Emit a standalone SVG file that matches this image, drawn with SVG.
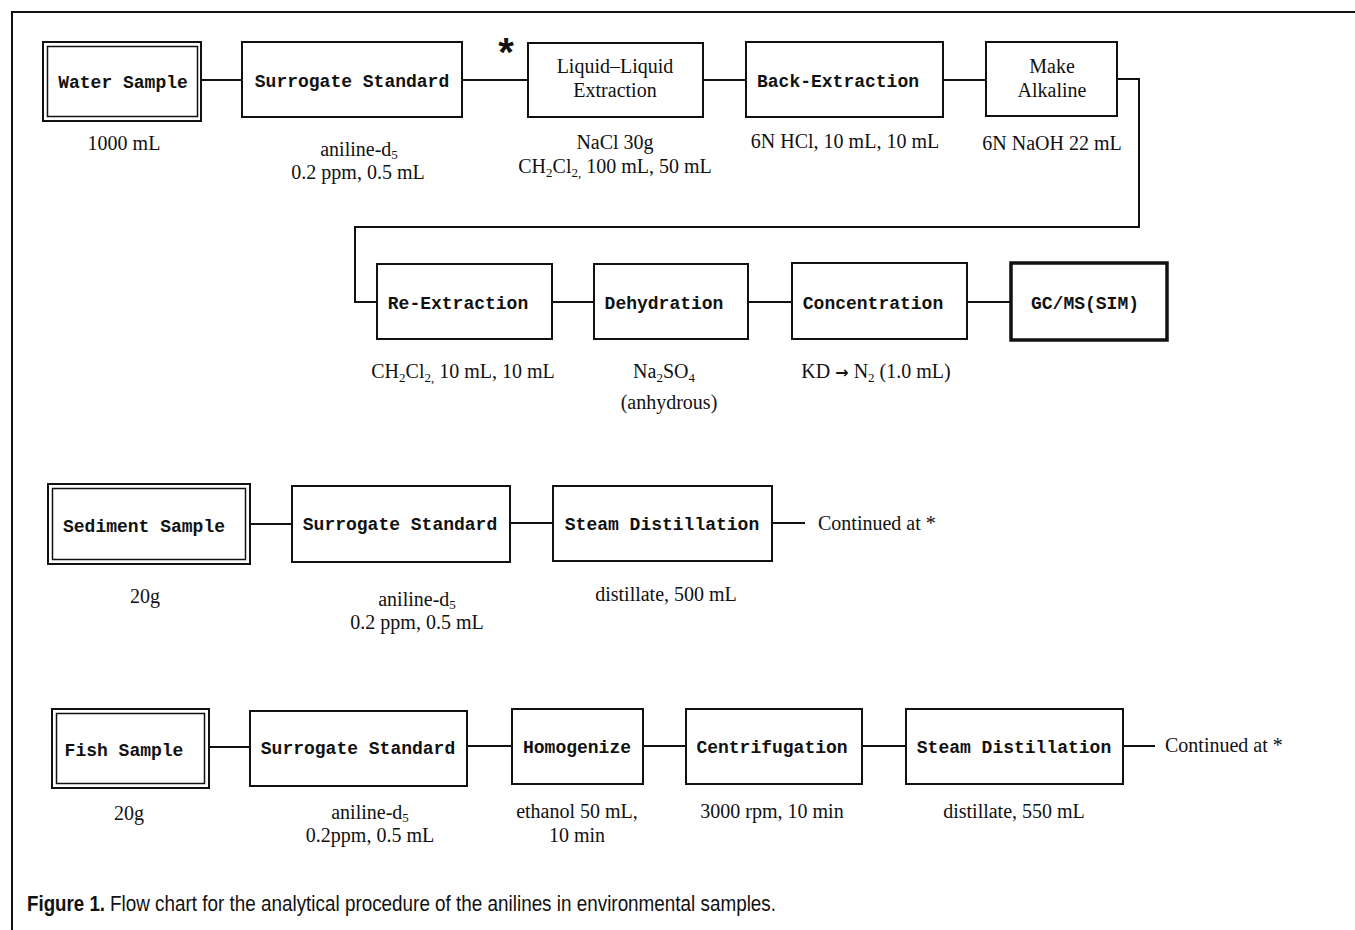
<svg xmlns="http://www.w3.org/2000/svg" width="1355" height="930" viewBox="0 0 1355 930">
<style>
.box{fill:#fff;stroke:#111;stroke-width:2}
.thick{fill:#fff;stroke:#111;stroke-width:3.5}
.in{fill:none;stroke:#111;stroke-width:1.5}
.lbl{font-family:"Liberation Mono","DejaVu Sans Mono",monospace;font-weight:bold;font-size:18px;fill:#111;text-anchor:middle}
.ser{font-family:"Liberation Serif","DejaVu Serif",serif;font-size:20px;fill:#111;text-anchor:middle}
.sub{font-size:13px}
.arr{font-family:"DejaVu Sans",sans-serif;font-weight:bold;font-size:16px}
.cap{font-family:"Liberation Sans",Arial,sans-serif;font-size:22px;fill:#111}
.con line,.con polyline{stroke:#111;stroke-width:2;fill:none}
</style>
<rect width="1355" height="930" fill="#fff"/>
<polyline points="12,930 12,12 1355,12" fill="none" stroke="#111" stroke-width="2"/>

<g class="con" id="connectors">
<line x1="201" y1="80" x2="242" y2="80"/>
<line x1="462" y1="80" x2="528" y2="80"/>
<line x1="703" y1="80" x2="746" y2="80"/>
<line x1="943" y1="80" x2="986" y2="80"/>
<polyline points="1117,79 1139,79 1139,227 355,227 355,302 377,302"/>
<line x1="552" y1="302" x2="594" y2="302"/>
<line x1="748" y1="302" x2="792" y2="302"/>
<line x1="967" y1="302" x2="1011" y2="302"/>
<line x1="250" y1="524" x2="292" y2="524"/>
<line x1="510" y1="523" x2="553" y2="523"/>
<line x1="772" y1="523" x2="805" y2="523"/>
<line x1="209" y1="747" x2="250" y2="747"/>
<line x1="467" y1="746" x2="512" y2="746"/>
<line x1="643" y1="746" x2="686" y2="746"/>
<line x1="862" y1="746" x2="906" y2="746"/>
<line x1="1123" y1="746" x2="1155" y2="746"/>
</g>

<g id="water">
<rect class="box" x="43" y="42" width="158" height="79"/>
<rect class="in" x="47.5" y="46.5" width="150" height="70"/>
<text class="lbl" x="123" y="88">Water Sample</text>
<text class="ser" x="124" y="150">1000 mL</text>
</g>
<g id="surrogate1">
<rect class="box" x="242" y="42" width="220" height="75"/>
<text class="lbl" x="352" y="87">Surrogate Standard</text>
<text class="ser" x="359" y="156">aniline-d<tspan class="sub" dy="3">5</tspan></text>
<text class="ser" x="358" y="179">0.2 ppm, 0.5 mL</text>
</g>
<g id="lle">
<text x="506" y="66" font-family="Liberation Sans,Arial,sans-serif" font-weight="bold" font-size="40" text-anchor="middle" fill="#111">*</text>
<rect class="box" x="528" y="43" width="175" height="74"/>
<text class="ser" x="615" y="73">Liquid–Liquid</text>
<text class="ser" x="615" y="97">Extraction</text>
<text class="ser" x="615" y="149">NaCl 30g</text>
<text class="ser" x="615" y="173">CH<tspan class="sub" dy="4">2</tspan><tspan dy="-4">Cl</tspan><tspan class="sub" dy="4">2,</tspan><tspan dy="-4"> 100 mL, 50 mL</tspan></text>
</g>
<g id="back">
<rect class="box" x="746" y="42" width="197" height="75"/>
<text class="lbl" x="838" y="87">Back-Extraction</text>
<text class="ser" x="845" y="148">6N HCl, 10 mL, 10 mL</text>
</g>
<g id="alkaline">
<rect class="box" x="986" y="42" width="131" height="74"/>
<text class="ser" x="1052" y="73">Make</text>
<text class="ser" x="1052" y="97">Alkaline</text>
<text class="ser" x="1052" y="150">6N NaOH 22 mL</text>
</g>
<g id="reext">
<rect class="box" x="377" y="264" width="175" height="75"/>
<text class="lbl" x="458" y="309">Re-Extraction</text>
<text class="ser" x="463" y="378">CH<tspan class="sub" dy="4">2</tspan><tspan dy="-4">Cl</tspan><tspan class="sub" dy="4">2,</tspan><tspan dy="-4"> 10 mL, 10 mL</tspan></text>
</g>
<g id="dehyd">
<rect class="box" x="594" y="264" width="154" height="75"/>
<text class="lbl" x="664" y="309">Dehydration</text>
<text class="ser" x="664" y="378">Na<tspan class="sub" dy="4">2</tspan><tspan dy="-4">SO</tspan><tspan class="sub" dy="4">4</tspan></text>
<text class="ser" x="669" y="409">(anhydrous)</text>
</g>
<g id="conc">
<rect class="box" x="792" y="263" width="175" height="76"/>
<text class="lbl" x="873" y="309">Concentration</text>
<text class="ser" x="876" y="378">KD <tspan class="arr">→</tspan> N<tspan class="sub" dy="4">2</tspan><tspan dy="-4"> (1.0 mL)</tspan></text>
</g>
<g id="gcms">
<rect class="thick" x="1011" y="263" width="156" height="77"/>
<text class="lbl" x="1085" y="309">GC/MS(SIM)</text>
</g>

<g id="sediment">
<rect class="box" x="48" y="484" width="202" height="80"/>
<rect class="in" x="52.5" y="488.5" width="193" height="71"/>
<text class="lbl" x="144" y="532">Sediment Sample</text>
<text class="ser" x="145" y="603">20g</text>
</g>
<g id="surrogate2">
<rect class="box" x="292" y="486" width="218" height="76"/>
<text class="lbl" x="400" y="530">Surrogate Standard</text>
<text class="ser" x="417" y="606">aniline-d<tspan class="sub" dy="3">5</tspan></text>
<text class="ser" x="417" y="629">0.2 ppm, 0.5 mL</text>
</g>
<g id="steam1">
<rect class="box" x="553" y="486" width="219" height="75"/>
<text class="lbl" x="662" y="530">Steam Distillation</text>
<text class="ser" x="666" y="601">distillate, 500 mL</text>
</g>
<text class="ser" x="818" y="530" style="text-anchor:start">Continued at *</text>

<g id="fish">
<rect class="box" x="52" y="709" width="157" height="79"/>
<rect class="in" x="56.5" y="713.5" width="148" height="70"/>
<text class="lbl" x="124" y="756">Fish Sample</text>
<text class="ser" x="129" y="820">20g</text>
</g>
<g id="surrogate3">
<rect class="box" x="250" y="711" width="217" height="75"/>
<text class="lbl" x="358" y="754">Surrogate Standard</text>
<text class="ser" x="370" y="819">aniline-d<tspan class="sub" dy="3">5</tspan></text>
<text class="ser" x="370" y="842">0.2ppm, 0.5 mL</text>
</g>
<g id="homog">
<rect class="box" x="512" y="709" width="131" height="75"/>
<text class="lbl" x="577" y="753">Homogenize</text>
<text class="ser" x="577" y="818">ethanol 50 mL,</text>
<text class="ser" x="577" y="842">10 min</text>
</g>
<g id="centri">
<rect class="box" x="686" y="709" width="176" height="75"/>
<text class="lbl" x="772" y="753">Centrifugation</text>
<text class="ser" x="772" y="818">3000 rpm, 10 min</text>
</g>
<g id="steam2">
<rect class="box" x="906" y="709" width="217" height="75"/>
<text class="lbl" x="1014" y="753">Steam Distillation</text>
<text class="ser" x="1014" y="818">distillate, 550 mL</text>
</g>
<text class="ser" x="1165" y="752" style="text-anchor:start">Continued at *</text>

<text class="cap" x="27" y="911" font-weight="bold" textLength="78" lengthAdjust="spacingAndGlyphs">Figure 1.</text>
<text class="cap" x="110" y="911" textLength="666" lengthAdjust="spacingAndGlyphs">Flow chart for the analytical procedure of the anilines in environmental samples.</text>
</svg>
